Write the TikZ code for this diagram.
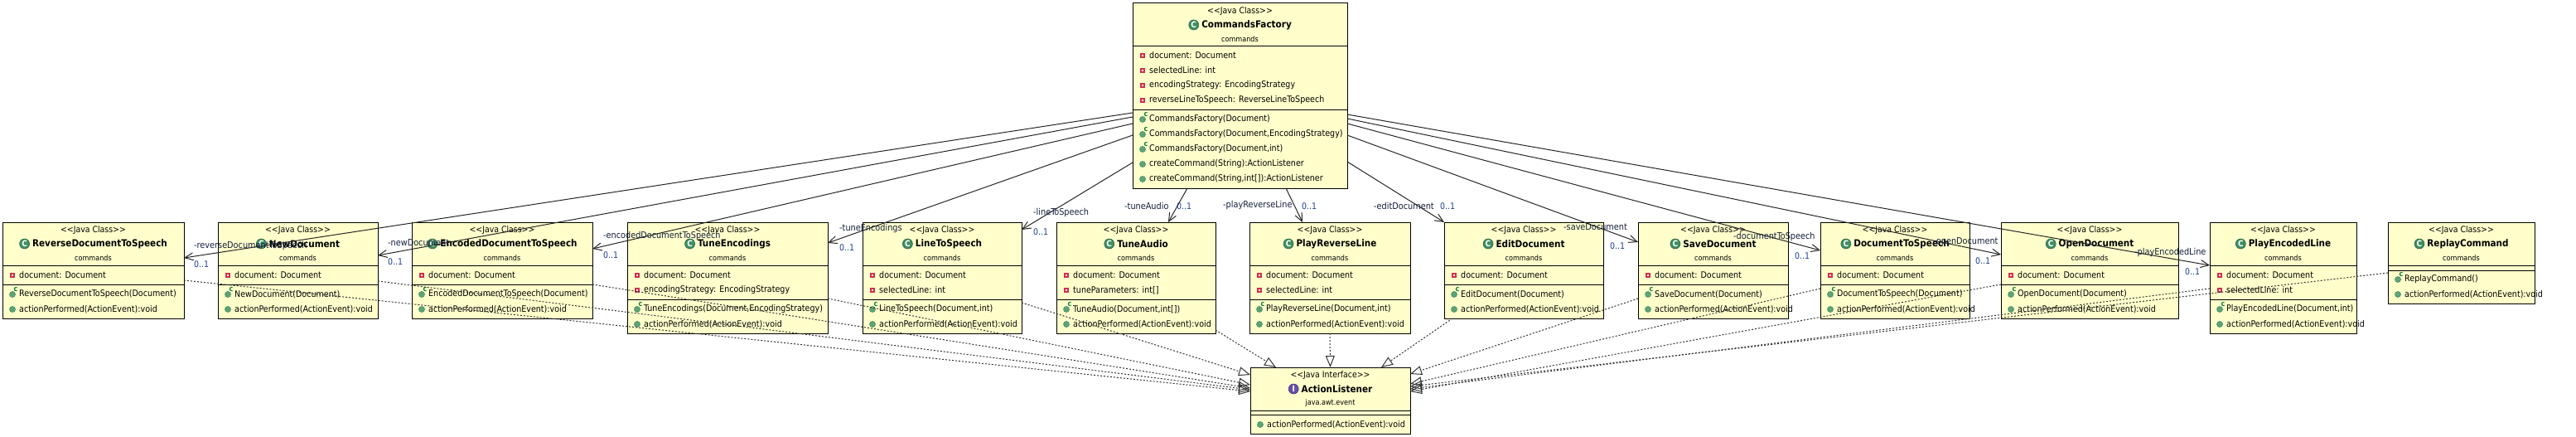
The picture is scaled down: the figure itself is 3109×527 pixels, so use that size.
\documentclass[tikz,border=0pt]{standalone}
\usepackage{fontspec}
\setmainfont{DejaVu Sans Condensed}
\usetikzlibrary{arrows.meta}
\definecolor{boxfill}{HTML}{FFFFCC}
\definecolor{classgreen}{HTML}{3F8F63}
\definecolor{rowgreen}{HTML}{5FA377}
\definecolor{ctorgreen}{HTML}{0E8040}
\definecolor{ifacepurple}{HTML}{6650A8}
\definecolor{fieldred}{HTML}{D0304C}
\definecolor{multblue}{HTML}{1B3D8F}
\definecolor{rolenavy}{HTML}{141E3C}
\tikzset{
	classframe/.style={draw=black, fill=boxfill, line width=1pt, inner sep=0pt, outer sep=0pt},
	stereotxt/.style={font=\fontsize{10.4}{12}\selectfont, inner sep=0pt},
	titletxt/.style={font=\fontsize{11.6}{14}\selectfont\bfseries, inner sep=0pt},
	pkgtxt/.style={font=\fontsize{9}{11}\selectfont, inner sep=0pt},
	rowtxt/.style={font=\fontsize{10.6}{13}\selectfont, inner sep=0pt, anchor=west},
	iconClass/.style={circle, fill=classgreen, draw=classgreen!70!black, line width=0.6pt, minimum size=12pt, inner sep=0pt, text=white, font=\fontsize{10}{10}\selectfont\bfseries},
	iconInterface/.style={iconClass, fill=ifacepurple, draw=ifacepurple!70!black},
	fieldmark/.style={rectangle, draw=fieldred, fill=white, line width=1.4pt, minimum size=4pt, inner sep=0pt},
	methmark/.style={circle, fill=rowgreen, draw=classgreen, line width=0.6pt, minimum size=7pt, inner sep=0pt},
	ctormark/.style={text=ctorgreen, font=\fontsize{9}{9}\selectfont\bfseries, inner sep=0pt},
	assoc/.style={draw=black!85, line width=1pt, -{Straight Barb[length=10pt,width=9pt]}},
	realize/.style={draw=black!80, line width=1pt, dash pattern=on 2pt off 2pt, -{Triangle[open,length=14pt,width=11pt]}},
	rolelbl/.style={font=\fontsize{10.8}{13}\selectfont, text=rolenavy, inner sep=0pt, anchor=west},
	multlbl/.style={font=\fontsize{10.5}{13}\selectfont, text=multblue, inner sep=0pt, anchor=west},
}
% frame, separators and the three header lines
\newcommand{\iconofClass}{C}
\newcommand{\iconofInterface}{I}
\newcommand{\classbox}[9]{
	\node[classframe, minimum width={(#3-#2)*1pt}, minimum height={(#6-#4)*1pt}] (#1) at ({(#2+#3)/2},{(#4+#6)/2}) {};
	\draw[line width=1pt] (#2,#4+52) -- (#3,#4+52);
	\draw[line width=1pt] (#2,#5) -- (#3,#5);
	\node[stereotxt] (#1-stereo) at ({(#2+#3)/2},#4+10) {<{}<Java #7>{}>};
	\node[titletxt] (#1-title) at ({(#2+#3)/2+8},#4+26) {#8};
	\node[icon#7, anchor=east] (#1-icon) at ([xshift=-3pt]#1-title.west) {\csname iconof#7\endcsname};
	\node[pkgtxt] (#1-pkg) at ({(#2+#3)/2},#4+43) {#9};
}
\newcommand{\fieldrows}[4]{
	\foreach \txt [count=\n] in {#4} {
		\pgfmathsetmacro\rowy{#3+18*\n-6}
		\node[fieldmark] (#1-fm\n) at (#2+12,\rowy) {};
		\node[rowtxt] (#1-f\n) at (#2+20,\rowy) {\txt};
	}
}
\newcommand{\methrows}[4]{
	\foreach \knd/\txt [count=\n] in {#4} {
		\pgfmathsetmacro\rowy{#3+18*\n-6}
		\node[methmark] (#1-mm\n) at (#2+12,\rowy) {};
		\if c\knd
			\node[ctormark] (#1-cm\n) at (#2+16,\rowy-6) {c};
		\fi
		\node[rowtxt] (#1-m\n) at (#2+20,\rowy) {\txt};
	}
}
\begin{document}
\begin{tikzpicture}[x=1pt, y=-1pt]
	\useasboundingbox (0,0) rectangle (3109,527);

	\classbox{factory}{1367}{1626}{4}{132}{227}{Class}{CommandsFactory}{commands}
	\fieldrows{factory}{1367}{55}{document: Document, selectedLine: int, encodingStrategy: EncodingStrategy, reverseLineToSpeech: ReverseLineToSpeech}
	\methrows{factory}{1367}{132}{c/{CommandsFactory(Document)}, c/{CommandsFactory(Document,EncodingStrategy)}, c/{CommandsFactory(Document,int)}, m/{createCommand(String):ActionListener}, m/{createCommand(String,int[]):ActionListener}}

	\classbox{rev}{3}{222}{268}{343}{384}{Class}{ReverseDocumentToSpeech}{commands}
	\fieldrows{rev}{3}{320}{document: Document}
	\methrows{rev}{3}{343}{c/{ReverseDocumentToSpeech(Document)}, m/{actionPerformed(ActionEvent):void}}

	\classbox{new}{263}{456}{268}{343}{384}{Class}{NewDocument}{commands}
	\fieldrows{new}{263}{320}{document: Document}
	\methrows{new}{263}{343}{c/{NewDocument(Document)}, m/{actionPerformed(ActionEvent):void}}

	\classbox{enc}{497}{715}{268}{343}{384}{Class}{EncodedDocumentToSpeech}{commands}
	\fieldrows{enc}{497}{320}{document: Document}
	\methrows{enc}{497}{343}{c/{EncodedDocumentToSpeech(Document)}, m/{actionPerformed(ActionEvent):void}}

	\classbox{tenc}{757}{999}{268}{361}{402}{Class}{TuneEncodings}{commands}
	\fieldrows{tenc}{757}{320}{document: Document, encodingStrategy: EncodingStrategy}
	\methrows{tenc}{757}{361}{c/{TuneEncodings(Document,EncodingStrategy)}, m/{actionPerformed(ActionEvent):void}}

	\classbox{line}{1041}{1233}{268}{361}{402}{Class}{LineToSpeech}{commands}
	\fieldrows{line}{1041}{320}{document: Document, selectedLine: int}
	\methrows{line}{1041}{361}{c/{LineToSpeech(Document,int)}, m/{actionPerformed(ActionEvent):void}}

	\classbox{taudio}{1275}{1467}{268}{361}{402}{Class}{TuneAudio}{commands}
	\fieldrows{taudio}{1275}{320}{document: Document, tuneParameters: int[]}
	\methrows{taudio}{1275}{361}{c/{TuneAudio(Document,int[])}, m/{actionPerformed(ActionEvent):void}}

	\classbox{prl}{1508}{1702}{268}{361}{402}{Class}{PlayReverseLine}{commands}
	\fieldrows{prl}{1508}{320}{document: Document, selectedLine: int}
	\methrows{prl}{1508}{361}{c/{PlayReverseLine(Document,int)}, m/{actionPerformed(ActionEvent):void}}

	\classbox{edit}{1743}{1935}{268}{343}{384}{Class}{EditDocument}{commands}
	\fieldrows{edit}{1743}{320}{document: Document}
	\methrows{edit}{1743}{343}{c/{EditDocument(Document)}, m/{actionPerformed(ActionEvent):void}}

	\classbox{save}{1977}{2158}{268}{343}{384}{Class}{SaveDocument}{commands}
	\fieldrows{save}{1977}{320}{document: Document}
	\methrows{save}{1977}{343}{c/{SaveDocument(Document)}, m/{actionPerformed(ActionEvent):void}}

	\classbox{doc}{2197}{2377}{268}{343}{384}{Class}{DocumentToSpeech}{commands}
	\fieldrows{doc}{2197}{320}{document: Document}
	\methrows{doc}{2197}{343}{c/{DocumentToSpeech(Document)}, m/{actionPerformed(ActionEvent):void}}

	\classbox{open}{2415}{2629}{268}{343}{384}{Class}{OpenDocument}{commands}
	\fieldrows{open}{2415}{320}{document: Document}
	\methrows{open}{2415}{343}{c/{OpenDocument(Document)}, m/{actionPerformed(ActionEvent):void}}

	\classbox{penc}{2667}{2844}{268}{361}{402}{Class}{PlayEncodedLine}{commands}
	\fieldrows{penc}{2667}{320}{document: Document, selectedLine: int}
	\methrows{penc}{2667}{361}{c/{PlayEncodedLine(Document,int)}, m/{actionPerformed(ActionEvent):void}}

	\classbox{replay}{2882}{3059}{268}{326}{366}{Class}{ReplayCommand}{commands}
	\methrows{replay}{2882}{325}{c/{ReplayCommand()}, m/{actionPerformed(ActionEvent):void}}

	\classbox{al}{1509}{1702}{443}{500}{523}{Interface}{ActionListener}{java.awt.event}
	\methrows{al}{1509}{500}{m/{actionPerformed(ActionEvent):void}}

	% associations
	\draw[assoc] ([yshift=-20.5pt]factory.west) -- ([yshift=15pt]rev.east);
	\draw[assoc] ([yshift=-25.5pt]factory.west) -- ([yshift=18pt]new.east);
	\draw[assoc] ([yshift=-33.5pt]factory.west) -- ([yshift=26pt]enc.east);
	\draw[assoc] ([yshift=-47.5pt]factory.west) -- ([yshift=42pt]tenc.east);
	\draw[assoc] ([yshift=-80.5pt]factory.west) -- ([yshift=58pt]line.east);
	\draw[assoc] ([xshift=-63.5pt]factory.south) -- ([xshift=39pt]taudio.north);
	\draw[assoc] ([xshift=55.5pt]factory.south) -- ([xshift=-33pt]prl.north);
	\draw[assoc] ([yshift=-79.5pt]factory.east) -- (edit.north west);
	\draw[assoc] ([yshift=-47.5pt]factory.east) -- ([yshift=34pt]save.west);
	\draw[assoc] ([yshift=-33.5pt]factory.east) -- ([yshift=24pt]doc.west);
	\draw[assoc] ([yshift=-27.5pt]factory.east) -- ([yshift=19pt]open.west);
	\draw[assoc] ([yshift=-22.5pt]factory.east) -- ([yshift=15pt]penc.west);

	% realizations
	\draw[realize] ([yshift=-12pt]rev.east) -- ([yshift=11pt]al.west);
	\draw[realize] ([yshift=-13pt]new.east) -- ([yshift=13pt]al.west);
	\draw[realize] ([yshift=-17pt]enc.east) -- ([yshift=15pt]al.west);
	\draw[realize] ([yshift=-25pt]tenc.east) -- ([yshift=19pt]al.west);
	\draw[realize] ([yshift=-30pt]line.east) -- ([yshift=31pt]al.west);
	\draw[realize] ([yshift=-63pt]taudio.east) -- ([xshift=-65.5pt]al.north);
	\draw[realize] (prl.south) -- (al.north);
	\draw[realize] ([xshift=-86pt]edit.south) -- ([xshift=61.5pt]al.north);
	\draw[realize] ([yshift=-34pt]save.west) -- ([yshift=32pt]al.east);
	\draw[realize] ([yshift=-22pt]doc.west) -- ([yshift=20pt]al.east);
	\draw[realize] ([yshift=-17pt]open.west) -- ([yshift=11pt]al.east);
	\draw[realize] ([yshift=-13pt]penc.west) -- ([yshift=14pt]al.east);
	\draw[realize] ([yshift=-12pt]replay.west) -- ([yshift=17pt]al.east);

	% roles and multiplicities
	\node[rolelbl] (rev-role) at (234,297) {-reverseDocumentToSpeech};
	\node[multlbl] (rev-mult) at (234,319) {0..1};
	\node[rolelbl] (new-role) at (468,293) {-newDocument};
	\node[multlbl] (new-mult) at (468,316) {0..1};
	\node[rolelbl] (enc-role) at (728,285) {-encodedDocumentToSpeech};
	\node[multlbl] (enc-mult) at (728,308) {0..1};
	\node[rolelbl] (tenc-role) at (1013,276) {-tuneEncodings};
	\node[multlbl] (tenc-mult) at (1013,299) {0..1};
	\node[rolelbl] (line-role) at (1247,257) {-lineToSpeech};
	\node[multlbl] (line-mult) at (1247,280) {0..1};
	\node[rolelbl] (taudio-role) at (1357,248) {-tuneAudio};
	\node[multlbl] (taudio-mult) at (1420,249) {0..1};
	\node[rolelbl] (prl-role) at (1476,248) {-playReverseLine};
	\node[multlbl] (prl-mult) at (1571,249) {0..1};
	\node[rolelbl] (edit-role) at (1658,248) {-editDocument};
	\node[multlbl] (edit-mult) at (1738,249) {0..1};
	\node[rolelbl] (save-role) at (1887,274) {-saveDocument};
	\node[multlbl] (save-mult) at (1943,297) {0..1};
	\node[rolelbl] (doc-role) at (2092,286) {-documentToSpeech};
	\node[multlbl] (doc-mult) at (2166,309) {0..1};
	\node[rolelbl] (open-role) at (2333,292) {-openDocument};
	\node[multlbl] (open-mult) at (2384,315) {0..1};
	\node[rolelbl] (penc-role) at (2576,305) {-playEncodedLine};
	\node[multlbl] (penc-mult) at (2637,328) {0..1};
\end{tikzpicture}
\end{document}
